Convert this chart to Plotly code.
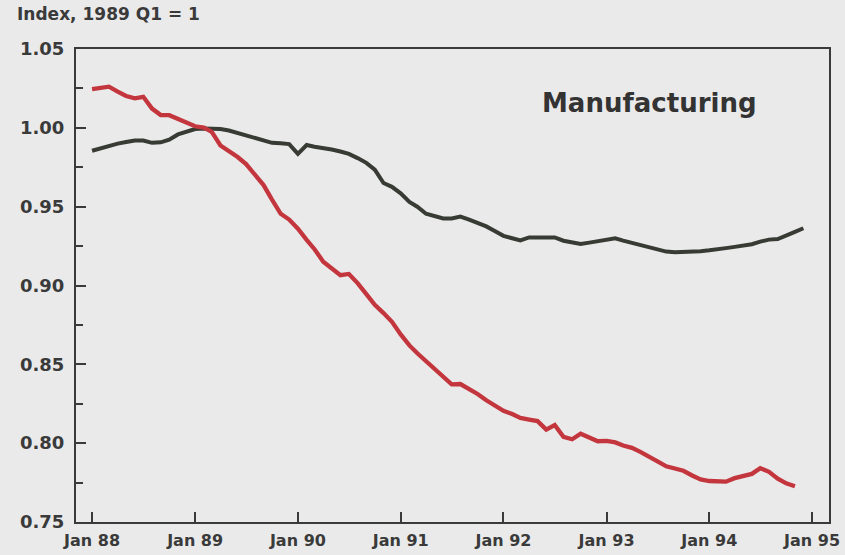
import pandas as pd
import plotly.graph_objects as go

# Monthly index values, 1989 Q1 = 1
red_values = [
    1.0246, 1.0252, 1.0261, 1.0230, 1.0202, 1.0187, 1.0197, 1.0122, 1.0081, 1.0080, 1.0056, 1.0030,
    1.0010, 1.0001, 0.9975, 0.9888, 0.9855, 0.9815, 0.9770, 0.9702, 0.9637, 0.9545, 0.9455, 0.9418,
    0.9360, 0.9290, 0.9230, 0.9151, 0.9105, 0.9065, 0.9073, 0.9015, 0.8945, 0.8877, 0.8825, 0.8770,
    0.8690, 0.8620, 0.8570, 0.8520, 0.8470, 0.8425, 0.8373, 0.8375, 0.8343, 0.8312, 0.8272, 0.8238,
    0.8205, 0.8185, 0.8160, 0.8150, 0.8140, 0.8086, 0.8115, 0.8040, 0.8025, 0.8060, 0.8035, 0.8012,
    0.8014, 0.8005, 0.7985, 0.7970, 0.7945, 0.7917, 0.7885, 0.7853, 0.7840, 0.7825, 0.7795, 0.7770,
    0.7760, 0.7756, 0.7756, 0.7778, 0.7790, 0.7805, 0.7841, 0.7818, 0.7775, 0.7745, 0.7727,
]
black_values = [
    0.9855, 0.9872, 0.9888, 0.9900, 0.9910, 0.9920, 0.9920, 0.9905, 0.9908, 0.9925, 0.9958, 0.9978,
    0.9992, 0.9996, 0.9997, 0.9992, 0.9983, 0.9968, 0.9954, 0.9935, 0.9918, 0.9905, 0.9902, 0.9897,
    0.9835, 0.9891, 0.9880, 0.9873, 0.9862, 0.9850, 0.9835, 0.9808, 0.9778, 0.9735, 0.9650, 0.9626,
    0.9585, 0.9530, 0.9500, 0.9455, 0.9440, 0.9425, 0.9425, 0.9437, 0.9418, 0.9398, 0.9375, 0.9345,
    0.9315, 0.9300, 0.9286, 0.9305, 0.9306, 0.9306, 0.9305, 0.9284, 0.9272, 0.9263, 0.9272, 0.9280,
    0.9290, 0.9299, 0.9285, 0.9270, 0.9255, 0.9240, 0.9226, 0.9215, 0.9211, 0.9212, 0.9214, 0.9218,
    0.9223, 0.9228, 0.9237, 0.9245, 0.9253, 0.9262, 0.9278, 0.9291, 0.9295, 0.9320, 0.9340, 0.9363,
]
start_month = "1988-01-01"
red_dates = pd.date_range(start_month, periods=len(red_values), freq="MS")
black_dates = pd.date_range(start_month, periods=len(black_values), freq="MS")

tick_dates = ["1988-01-01", "1989-01-01", "1990-01-01", "1991-01-01",
              "1992-01-01", "1993-01-01", "1994-01-01", "1995-01-01"]
tick_labels = ["Jan 88", "Jan 89", "Jan 90", "Jan 91", "Jan 92", "Jan 93", "Jan 94", "Jan 95"]
y_ticks = [0.75, 0.80, 0.85, 0.90, 0.95, 1.00, 1.05]
y_labels = ["0.75", "0.80", "0.85", "0.90", "0.95", "1.00", "1.05"]

BG = "#eaeaea"
AX = "#3a3a3a"
FONT = "DejaVu Sans"

fig = go.Figure()
fig.add_trace(go.Scatter(x=black_dates, y=black_values, mode="lines",
                         line=dict(color="#373b34", width=4), showlegend=False))
fig.add_trace(go.Scatter(x=red_dates, y=red_values, mode="lines",
                         line=dict(color="#c4363d", width=4.3), showlegend=False))

fig.update_layout(
    width=845, height=555, autosize=False,
    margin=dict(l=76, r=16, t=49, b=33),
    paper_bgcolor=BG, plot_bgcolor=BG,
    font=dict(family=FONT, color="#3a3a3a"),
    xaxis=dict(
        range=["1987-11-05", "1995-03-02"],
        tickmode="array", tickvals=tick_dates, ticktext=tick_labels,
        ticks="inside", ticklen=10, tickwidth=2, tickcolor=AX,
        showline=True, linecolor=AX, linewidth=2, mirror=True,
        showgrid=False, zeroline=False, automargin=False,
        tickfont=dict(family=FONT, size=16, color="#3a3a3a", weight="bold"),
        ticklabelstandoff=3,
    ),
    yaxis=dict(
        range=[0.75, 1.05],
        tickmode="array", tickvals=y_ticks, ticktext=y_labels,
        ticks="inside", ticklen=10, tickwidth=2, tickcolor=AX,
        minor=dict(dtick=0.025, ticks="inside", ticklen=7, tickwidth=2, tickcolor=AX, showgrid=False),
        showline=True, linecolor=AX, linewidth=2, mirror=True,
        showgrid=False, zeroline=False, automargin=False,
        tickfont=dict(family=FONT, size=18, color="#3a3a3a", weight="bold"),
        ticklabelstandoff=6,
    ),
    annotations=[
        dict(text="Index, 1989 Q1 = 1", xref="paper", yref="paper",
             x=-0.081, y=1.074, xanchor="left", yanchor="middle", showarrow=False,
             font=dict(family=FONT, size=17, color="#3a3a3a", weight="bold")),
        dict(text="Manufacturing", xref="paper", yref="paper",
             x=0.762, y=0.886, xanchor="center", yanchor="middle", showarrow=False,
             font=dict(family=FONT, size=26, color="#333333", weight="bold")),
    ],
)

fig.write_html(
    "out.html",
    config={"displayModeBar": False, "responsive": False},
    post_script=("document.body.style.margin='0';"
                 "document.body.style.overflow='hidden';"
                 "document.body.style.background='%s';" % BG),
)
